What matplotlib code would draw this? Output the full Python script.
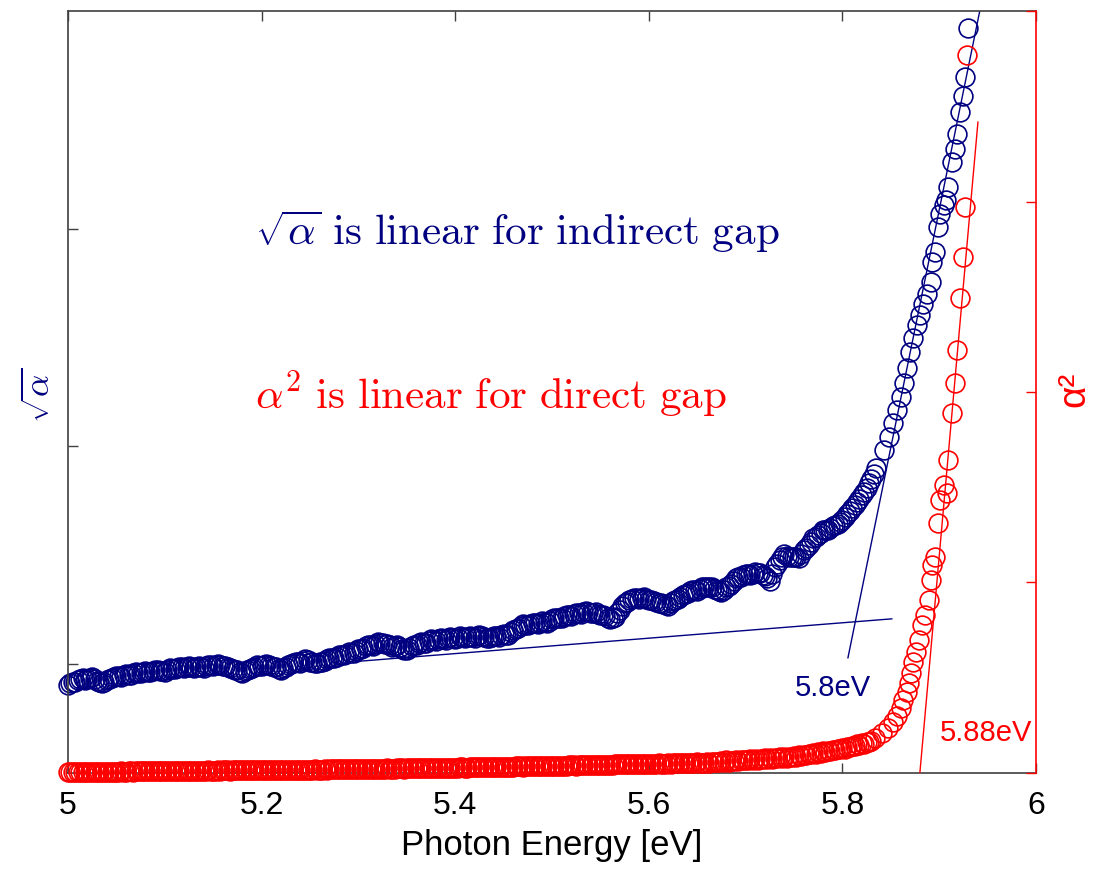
import numpy as np
import matplotlib
matplotlib.use('Agg')
import matplotlib.pyplot as plt

plt.rcParams['font.family'] = ['Liberation Sans', 'DejaVu Sans']
plt.rcParams['mathtext.fontset'] = 'cm'

navy = '#000080'
red = '#ff0000'

# sqrt(alpha), dense part, 0.005 eV grid from 5.000 to 5.835
sqrt_alpha_dense = [
    0.905, 0.918, 0.925, 0.934, 0.930, 0.940, 0.922, 0.914, 0.926, 0.935,
    0.946, 0.940, 0.955, 0.951, 0.962, 0.958, 0.968, 0.962, 0.975, 0.970,
    0.966, 0.980, 0.976, 0.988, 0.981, 0.990, 0.980, 0.992, 0.984, 0.996,
    0.990, 1.002, 0.993, 0.988, 0.976, 0.972, 0.960, 0.975, 0.982, 0.995,
    0.990, 1.001, 0.993, 0.985, 0.972, 0.988, 1.000, 1.012, 1.006, 1.024,
    1.012, 1.004, 1.010, 1.015, 1.030, 1.026, 1.044, 1.040, 1.056, 1.050,
    1.068, 1.074, 1.088, 1.084, 1.102, 1.095, 1.092, 1.080, 1.086, 1.070,
    1.064, 1.082, 1.090, 1.100, 1.098, 1.115, 1.108, 1.120, 1.112, 1.124,
    1.116, 1.128, 1.120, 1.130, 1.122, 1.132, 1.124, 1.118, 1.130, 1.126,
    1.138, 1.134, 1.158, 1.166, 1.184, 1.178, 1.190, 1.184, 1.196, 1.190,
    1.208, 1.214, 1.212, 1.226, 1.222, 1.234, 1.232, 1.244, 1.236, 1.238,
    1.226, 1.222, 1.206, 1.218, 1.250, 1.280, 1.294, 1.304, 1.300, 1.308,
    1.294, 1.292, 1.280, 1.278, 1.268, 1.292, 1.300, 1.318, 1.326, 1.342,
    1.338, 1.354, 1.352, 1.352, 1.342, 1.330, 1.352, 1.370, 1.394, 1.402,
    1.416, 1.410, 1.422, 1.418, 1.404, 1.384, 1.444, 1.478, 1.504, 1.490,
    1.494, 1.486, 1.524, 1.546, 1.578, 1.594, 1.614, 1.618, 1.634, 1.645,
    1.663, 1.690, 1.715, 1.745, 1.775, 1.810, 1.850, 1.900,
]
energy_dense = np.round(np.linspace(5.0, 5.835, len(sqrt_alpha_dense)), 4)

# sqrt(alpha), readings in between, 5.0025 to 5.8325
sqrt_alpha_mid = [
    0.912, 0.920, 0.931, 0.928, 0.936, 0.930, 0.917, 0.920, 0.931, 0.941,
    0.944, 0.948, 0.952, 0.958, 0.960, 0.964, 0.966, 0.970, 0.972, 0.968,
    0.973, 0.978, 0.983, 0.985, 0.986, 0.985, 0.987, 0.988, 0.991, 0.994,
    0.997, 0.998, 0.990, 0.982, 0.974, 0.966, 0.968, 0.979, 0.989, 0.993,
    0.996, 0.997, 0.989, 0.978, 0.980, 0.994, 1.006, 1.009, 1.015, 1.018,
    1.008, 1.007, 1.012, 1.022, 1.028, 1.035, 1.042, 1.048, 1.053, 1.060,
    1.071, 1.081, 1.086, 1.093, 1.099, 1.094, 1.086, 1.083, 1.078, 1.067,
    1.073, 1.086, 1.095, 1.099, 1.107, 1.112, 1.114, 1.116, 1.118, 1.120,
    1.122, 1.124, 1.125, 1.126, 1.127, 1.128, 1.121, 1.124, 1.128, 1.132,
    1.136, 1.146, 1.162, 1.175, 1.181, 1.184, 1.187, 1.190, 1.193, 1.199,
    1.211, 1.213, 1.219, 1.224, 1.228, 1.233, 1.238, 1.240, 1.237, 1.232,
    1.224, 1.214, 1.212, 1.234, 1.265, 1.287, 1.299, 1.302, 1.304, 1.301,
    1.293, 1.286, 1.279, 1.273, 1.280, 1.296, 1.309, 1.322, 1.334, 1.340,
    1.346, 1.353, 1.352, 1.347, 1.336, 1.341, 1.361, 1.382, 1.398, 1.409,
    1.413, 1.416, 1.420, 1.411, 1.394, 1.414, 1.461, 1.491, 1.497, 1.492,
    1.490, 1.505, 1.535, 1.562, 1.586, 1.604, 1.616, 1.626, 1.640, 1.654,
    1.676, 1.702, 1.730, 1.760, 1.792, 1.830, 1.875,
]
energy_mid = np.round(np.linspace(5.0025, 5.8325, len(sqrt_alpha_mid)), 4)

# steep part of sqrt(alpha)
energy_steep = [5.843, 5.848, 5.852, 5.856, 5.860, 5.864, 5.867, 5.870, 5.873,
                5.877, 5.880, 5.883, 5.887, 5.891, 5.893, 5.896, 5.899, 5.901,
                5.905, 5.907, 5.909, 5.913, 5.916, 5.918, 5.921, 5.925, 5.927,
                5.930]
sqrt_alpha_steep = [1.985, 2.045, 2.109, 2.169, 2.229, 2.293, 2.362, 2.436,
                    2.500, 2.560, 2.606, 2.652, 2.698, 2.757, 2.849, 2.895,
                    3.006, 3.066, 3.111, 3.134, 3.190, 3.305, 3.364, 3.433,
                    3.534, 3.608, 3.695, 3.921]

# alpha^2, dense part, 0.005 eV grid from 5.000 to 5.830
alpha_sq_dense = [
    0.005, 0.005, 0.006, 0.005,
    0.005, 0.006, 0.005, 0.007, 0.006, 0.006, 0.007, 0.008, 0.007, 0.008,
    0.008, 0.009, 0.008, 0.009, 0.010, 0.009, 0.010, 0.010, 0.011, 0.010,
    0.011, 0.011, 0.012, 0.011, 0.012, 0.013, 0.012, 0.013, 0.013, 0.014,
    0.013, 0.014, 0.015, 0.014, 0.015, 0.015, 0.016, 0.015, 0.016, 0.016,
    0.017, 0.016, 0.017, 0.018, 0.017, 0.018, 0.018, 0.019, 0.018, 0.019,
    0.020, 0.019, 0.020, 0.021, 0.020, 0.021, 0.022, 0.021, 0.022, 0.023,
    0.022, 0.023, 0.024, 0.023, 0.024, 0.025, 0.024, 0.025, 0.026, 0.025,
    0.026, 0.027, 0.026, 0.027, 0.028, 0.027, 0.028, 0.029, 0.028, 0.030,
    0.029, 0.030, 0.031, 0.030, 0.032, 0.031, 0.032, 0.033, 0.032, 0.034,
    0.033, 0.035, 0.034, 0.036, 0.035, 0.037, 0.036, 0.038, 0.037, 0.039,
    0.040, 0.039, 0.041, 0.042, 0.041, 0.043, 0.042, 0.044, 0.043, 0.045,
    0.046, 0.045, 0.047, 0.046, 0.048, 0.047, 0.049, 0.048, 0.050, 0.049,
    0.051, 0.050, 0.052, 0.051, 0.053, 0.052, 0.055, 0.054, 0.057, 0.060,
    0.059, 0.063, 0.066, 0.065, 0.068, 0.067, 0.070, 0.072, 0.071, 0.075,
    0.077, 0.076, 0.080, 0.082, 0.084, 0.083, 0.088, 0.092, 0.095, 0.099,
    0.104, 0.108, 0.113, 0.117, 0.121, 0.126, 0.131, 0.136, 0.143, 0.150,
    0.157, 0.163, 0.170,
]
energy_red_dense = np.round(np.linspace(5.0, 5.830, len(alpha_sq_dense)), 4)

# alpha^2, readings in between, 5.0025 to 5.8275
alpha_sq_mid = [
    0.005, 0.006, 0.005, 0.006, 0.006, 0.005, 0.006, 0.006, 0.007, 0.006,
    0.007, 0.007, 0.008, 0.007, 0.008, 0.008, 0.009, 0.008, 0.009, 0.009,
    0.010, 0.009, 0.010, 0.010, 0.011, 0.010, 0.011, 0.011, 0.012, 0.011,
    0.012, 0.012, 0.013, 0.012, 0.013, 0.013, 0.014, 0.013, 0.014, 0.015,
    0.014, 0.015, 0.015, 0.016, 0.015, 0.016, 0.016, 0.017, 0.016, 0.017,
    0.018, 0.017, 0.018, 0.018, 0.019, 0.019, 0.020, 0.019, 0.020, 0.021,
    0.020, 0.021, 0.022, 0.021, 0.022, 0.023, 0.022, 0.023, 0.024, 0.023,
    0.024, 0.025, 0.024, 0.025, 0.026, 0.026, 0.027, 0.026, 0.027, 0.028,
    0.028, 0.029, 0.028, 0.029, 0.030, 0.030, 0.031, 0.031, 0.032, 0.032,
    0.033, 0.033, 0.034, 0.034, 0.035, 0.035, 0.036, 0.036, 0.037, 0.037,
    0.038, 0.038, 0.039, 0.040, 0.040, 0.041, 0.041, 0.042, 0.042, 0.043,
    0.043, 0.044, 0.044, 0.045, 0.045, 0.046, 0.046, 0.046, 0.047, 0.047,
    0.047, 0.048, 0.048, 0.049, 0.049, 0.050, 0.050, 0.051, 0.051, 0.052,
    0.052, 0.053, 0.054, 0.055, 0.056, 0.058, 0.059, 0.061, 0.064, 0.066,
    0.066, 0.068, 0.069, 0.071, 0.073, 0.074, 0.076, 0.079, 0.081, 0.083,
    0.085, 0.090, 0.093, 0.097, 0.101, 0.106, 0.110, 0.115, 0.119, 0.124,
    0.128, 0.134, 0.140, 0.146, 0.153, 0.160,
]
energy_red_mid = np.round(np.linspace(5.0025, 5.8275, len(alpha_sq_mid)), 4)

energy_red_steep = [5.834, 5.841, 5.847, 5.852, 5.856, 5.860, 5.863, 5.867,
                    5.869, 5.871, 5.873, 5.876, 5.879, 5.882, 5.885, 5.889,
                    5.892, 5.893, 5.896, 5.899, 5.901, 5.905, 5.908, 5.909,
                    5.913, 5.916, 5.918, 5.921, 5.925, 5.927, 5.929]
alpha_sq_steep = [0.184, 0.210, 0.236, 0.268, 0.299, 0.341, 0.383, 0.425,
                  0.472, 0.525, 0.583, 0.635, 0.698, 0.777, 0.829, 0.908,
                  1.013, 1.092, 1.134, 1.312, 1.433, 1.512, 1.470, 1.643,
                  1.890, 2.047, 2.220, 2.493, 2.709, 2.971, 3.769]

# linear fits (end points)
fit_low_E = [5.30, 5.851]
fit_low_v = [1.013, 1.208]
fit_ind_E = [5.8057, 5.942]
fit_ind_v = [1.029, 4.003]
fit_dir_E = [5.880, 5.940]
fit_dir_v = [0.0, 3.417]

x_ticks = [5, 5.2, 5.4, 5.6, 5.8, 6]
x_tick_labels = ['5', '5.2', '5.4', '5.6', '5.8', '6']

fig = plt.figure(figsize=(10.99, 8.69), dpi=100)
ax = fig.add_axes([0.0619, 0.1105, 0.8808, 0.8768])

E_blue = np.concatenate([energy_dense, energy_mid, energy_steep])
v_blue = np.concatenate([sqrt_alpha_dense, sqrt_alpha_mid, sqrt_alpha_steep])
order = np.argsort(E_blue, kind='stable')
ax.plot(E_blue[order], v_blue[order], 'o', mfc='none', mec=navy, ms=13.5,
        mew=1.2, clip_on=False)
ax.plot(fit_low_E, fit_low_v, '-', color=navy, lw=1.0)
ax.plot(fit_ind_E, fit_ind_v, '-', color=navy, lw=1.0)

ax.set_xlim(5, 6)
ax.set_ylim(0.5, 4.0)
ax.set_xticks(x_ticks)
ax.set_xticklabels(x_tick_labels, fontsize=23)
ax.set_yticks([1, 2, 3])
ax.set_yticklabels([])
ax.tick_params(direction='in', length=7, width=1, color='#404040',
               top=True, right=False, pad=13)
for s in ['left', 'top', 'bottom']:
    ax.spines[s].set_color('#404040')
    ax.spines[s].set_linewidth(1.2)
ax.spines['right'].set_visible(False)
ax.set_xlabel('Photon Energy [eV]', fontsize=25, labelpad=6)

ax2 = ax.twinx()
E_red = np.concatenate([energy_red_dense, energy_red_mid, energy_red_steep])
a_red = np.concatenate([alpha_sq_dense, alpha_sq_mid, alpha_sq_steep])
order = np.argsort(E_red, kind='stable')
ax2.plot(E_red[order], a_red[order], 'o', mfc='none', mec=red, ms=13.5,
         mew=1.2, clip_on=False)
ax2.plot(fit_dir_E, fit_dir_v, '-', color=red, lw=1.0)
ax2.set_ylim(0, 4)
ax2.set_yticks([0, 1, 2, 3, 4])
ax2.set_yticklabels([])
ax2.tick_params(axis='y', direction='in', length=7, width=1, colors=red)
for s in ['left', 'top', 'bottom']:
    ax2.spines[s].set_visible(False)
ax2.spines['right'].set_color(red)
ax2.spines['right'].set_linewidth(1.2)

ax.text(-0.029, 0.496, r'$\sqrt{\alpha}$', transform=ax.transAxes, rotation=90,
        ha='center', va='center', color=navy, fontsize=25)
ax.text(1.040, 0.503, 'α²', transform=ax.transAxes, rotation=90,
        ha='center', va='center', color=red, fontsize=28)

ax.text(5.193, 2.987, r'$\sqrt{\alpha}\ \mathrm{is\ linear\ for\ indirect\ gap}$',
        color=navy, fontsize=31, ha='left', va='center')
ax.text(5.193, 2.238, r'$\alpha^2\ \mathrm{is\ linear\ for\ direct\ gap}$',
        color=red, fontsize=31, ha='left', va='center')
ax.text(5.751, 0.891, '5.8eV', color=navy, fontsize=21, ha='left', va='center')
ax2.text(5.901, 0.21, '5.88eV', color=red, fontsize=21, ha='left', va='center')

fig.savefig('out.png', dpi=100)
